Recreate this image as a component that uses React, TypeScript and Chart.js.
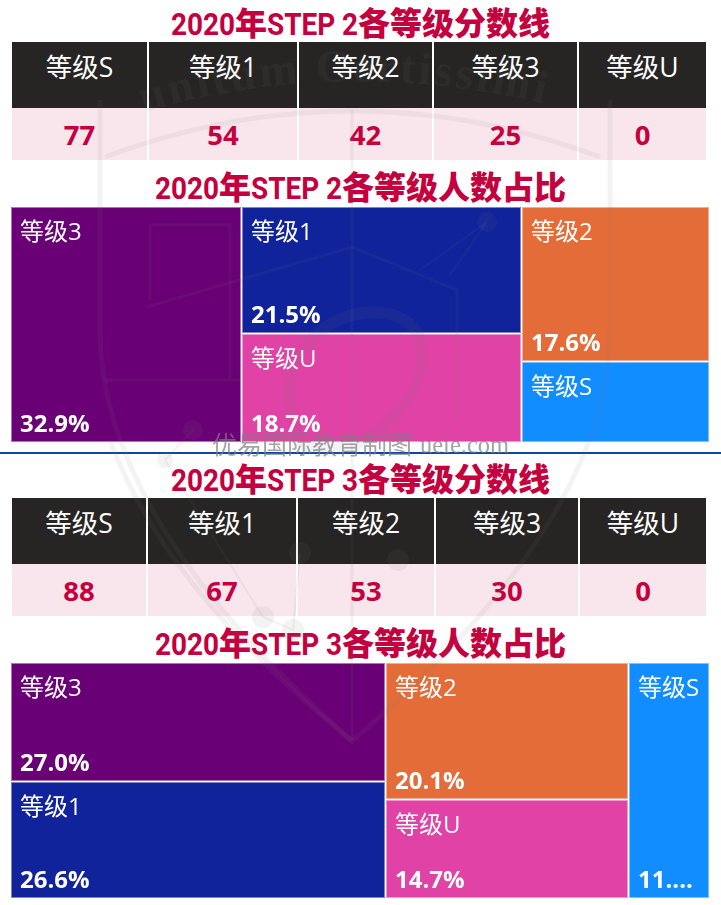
import React, { useEffect, useRef } from 'react';
import { Chart, registerables } from 'chart.js';

Chart.register(...registerables);

// grades, in table order
const grades = ['等级S', '等级1', '等级2', '等级3', '等级U'];
const gradeColors = ['#128dff', '#10239a', '#e46c38', '#6a0075', '#e043a5'];

const step2Scores = [77, 54, 42, 25, 0];
const step3Scores = [88, 67, 53, 30, 0];

const step2Shares = [9.3, 21.5, 17.6, 32.9, 18.7];
const step3Shares = [11.6, 26.6, 20.1, 27.0, 14.7];

// which grades sit together in each treemap column
const step2Columns = [[3], [1, 4], [2, 0]];
const step3Columns = [[3, 1], [2, 4], [0]];

// table column edges in px
const step2TableEdges = [12, 148, 298, 433, 578, 706];
const step3TableEdges = [12, 147, 297, 435, 579, 706];

const FONT = "'Open Sans', 'Noto Sans CJK SC', sans-serif";
const TITLE_RED = '#c5003e';
const LATIN_SQUEEZE = 0.9;

interface Cell {
  x: number;
  y: number;
  x0: number;
  x1: number;
  y0: number;
  y1: number;
  grade: number;
}

const layoutCells = (shares: number[], columns: number[][]): Cell[] => {
  const cells: Cell[] = [];
  let left = 0;
  columns.forEach(col => {
    const colTotal = col.reduce((s, g) => s + shares[g], 0);
    let top = 0;
    col.forEach(g => {
      const h = (shares[g] / colTotal) * 100;
      cells.push({
        x: left + colTotal / 2,
        y: top + h / 2,
        x0: left,
        x1: left + colTotal,
        y0: top,
        y1: top + h,
        grade: g
      });
      top += h;
    });
    left += colTotal;
  });
  return cells;
};

// 11.6% does not fit the narrow column, so it gets cut like the original
const fitText = (ctx: CanvasRenderingContext2D, text: string, maxWidth: number) => {
  if (ctx.measureText(text).width <= maxWidth) return text;
  let cut = text;
  while (cut.length > 0 && ctx.measureText(cut + '...').width > maxWidth) {
    cut = cut.slice(0, -1);
  }
  return cut + '...';
};

const treemapPlugin = (shares: number[]) => ({
  id: 'treemapCells',
  afterDatasetsDraw(chart: any) {
    const { ctx, scales } = chart;
    const cells: Cell[] = chart.data.datasets[0].data;
    cells.forEach(c => {
      const l = Math.round(scales.x.getPixelForValue(c.x0));
      const r = Math.round(scales.x.getPixelForValue(c.x1));
      const t = Math.round(scales.y.getPixelForValue(c.y0));
      const b = Math.round(scales.y.getPixelForValue(c.y1));
      // inner sides leave a wider white gap than the outer ones
      const fl = c.x0 === 0 ? l + 1 : l + 2;
      const ft = c.y0 === 0 ? t + 1 : t + 2;
      const fw = r - 1 - fl;
      const fh = b - 1 - ft;
      ctx.save();
      ctx.fillStyle = gradeColors[c.grade];
      ctx.globalAlpha = 0.55;
      ctx.fillRect(fl - 1, ft - 1, fw + 2, fh + 2);
      ctx.globalAlpha = 1;
      ctx.fillRect(fl, ft, fw, fh);
      ctx.fillStyle = '#fff';
      ctx.textBaseline = 'middle';
      ctx.textAlign = 'left';
      ctx.font = `24px ${FONT}`;
      ctx.fillText(grades[c.grade], fl + 8, ft + 25);
      // very short cells only carry the grade name
      if (b - t > 90) {
        ctx.font = `bold 24px ${FONT}`;
        const pct = shares[c.grade].toFixed(1) + '%';
        ctx.fillText(fitText(ctx, pct, r - l - 18), fl + 8, b - 17);
      }
      ctx.restore();
    });
  }
});

const Treemap: React.FC<{ shares: number[]; columns: number[][]; top: number }> = ({ shares, columns, top }) => {
  const canvasRef = useRef<HTMLCanvasElement>(null);

  useEffect(() => {
    if (!canvasRef.current) return;
    const chart = new Chart(canvasRef.current, {
      type: 'scatter',
      data: {
        datasets: [{ data: layoutCells(shares, columns) as any, pointRadius: 0 }]
      },
      options: {
        animation: false,
        responsive: false,
        maintainAspectRatio: false,
        layout: { padding: 0 },
        scales: {
          x: { display: false, min: 0, max: 100 },
          y: { display: false, min: 0, max: 100, reverse: true }
        },
        plugins: { legend: { display: false }, tooltip: { enabled: false } }
      },
      plugins: [treemapPlugin(shares)]
    });
    return () => chart.destroy();
  }, [shares, columns]);

  return (
    <canvas
      ref={canvasRef}
      width={698}
      height={235}
      style={{ position: 'absolute', left: 11, top, width: 698, height: 235 }}
    />
  );
};

const measureCtx = document.createElement('canvas').getContext('2d');

// no condensed latin font is installed, so squeeze the latin runs by hand
const LatinRun: React.FC<{ text: string }> = ({ text }) => {
  measureCtx.font = 'bold 31px Roboto';
  const width = measureCtx.measureText(text).width;
  return (
    <span style={{ display: 'inline-block', width: width * LATIN_SQUEEZE, textAlign: 'left', fontFamily: 'Roboto', fontSize: 31 }}>
      <span style={{ display: 'inline-block', transform: `scaleX(${LATIN_SQUEEZE})`, transformOrigin: 'left center' }}>{text}</span>
    </span>
  );
};

const Title: React.FC<{ text: string; center: number }> = ({ text, center }) => (
  <div
    style={{
      position: 'absolute',
      left: 0,
      width: 721,
      top: center - 27,
      height: 50,
      lineHeight: '50px',
      textAlign: 'center',
      fontWeight: 700,
      color: TITLE_RED,
      whiteSpace: 'pre'
    }}
  >
    {text.split(/([\u4e00-\u9fff]+)/).map((part, i) =>
      /[\u4e00-\u9fff]/.test(part) ? (
        <span key={i} style={{ fontFamily: "'Noto Sans CJK SC'", fontSize: 32, fontWeight: 900 }}>{part}</span>
      ) : (
        <LatinRun key={i} text={part} />
      )
    )}
  </div>
);

const ScoreTable: React.FC<{ scores: number[]; edges: number[]; top: number }> = ({ scores, edges, top }) => (
  <>
    {grades.map((g, i) => {
      const left = edges[i] + (i > 0 ? 1 : 0);
      const width = edges[i + 1] - left - (i < grades.length - 1 ? 1 : 0);
      return (
        <div key={g} style={{ position: 'absolute', left, width, top, height: 118, fontFamily: FONT, textAlign: 'center' }}>
          <div style={{ height: 66, background: '#262524', color: '#fff', fontSize: 26.5, lineHeight: '50px' }}>{g}</div>
          <div style={{ height: 52, background: '#f9e6ec', color: TITLE_RED, fontSize: 27.5, fontWeight: 700, lineHeight: '54px' }}>
            {scores[i]}
          </div>
        </div>
      );
    })}
  </>
);

// faint seal that lies over the whole picture
const Watermark: React.FC = () => {
  const line = 'rgba(120,120,120,0.09)';
  return (
    <svg
      width={721}
      height={905}
      style={{ position: 'absolute', left: 0, top: 0, pointerEvents: 'none' }}
    >
      <g fill="none" stroke={line} strokeWidth={5}>
        <path d="M105 157 Q352 65 600 157" />
        <path d="M100 100 L100 330 Q100 520 352 741 Q610 520 610 330 L610 100" />
        <path d="M110 440 Q165 590 352 741" />
        <path d="M352 110 L352 740" strokeWidth={3} />
        <path d="M147 307 L352 247 L457 290 L457 420" strokeWidth={3} />
        <path d="M150 300 L150 225 L230 225 L230 380 M105 380 L240 380" strokeWidth={3} />
        <path d="M300 440 C250 320 400 280 420 340 C440 400 340 480 300 440" strokeWidth={12} />
        <path d="M165 460 L263 617 L293 630 L300 553 M487 222 L420 270 M487 222 L450 275 M193 430 L165 460" strokeWidth={2} />
      </g>
      <g fill={line}>
        <circle cx={487} cy={222} r={10} />
        <circle cx={193} cy={430} r={10} />
        <circle cx={165} cy={460} r={8} />
        <circle cx={263} cy={617} r={11} />
        <circle cx={293} cy={630} r={11} />
        <circle cx={300} cy={553} r={11} />
        <circle cx={398} cy={560} r={11} />
      </g>
      <defs>
        <path id="sealArc" d="M125 118 Q352 45 600 118" />
      </defs>
      <text fontFamily="'Liberation Serif'" fontSize={46} fontWeight={700} fill={line} letterSpacing={3}>
        <textPath href="#sealArc" startOffset="4%">unitum Certissimi</textPath>
      </text>
      <text x={212} y={454} fontFamily="'Noto Sans CJK SC'" fontSize={25} fill="rgba(125,125,125,0.7)">优易国际教育制图</text>
      <text x={420} y={453} fontFamily="'Liberation Serif'" fontSize={24.5} fill="rgba(125,125,125,0.7)">ueie.com</text>
    </svg>
  );
};

export default function App() {
  return (
    <div style={{ position: 'relative', width: 721, height: 905, background: '#fff', overflow: 'hidden' }}>
      <style>{'body{margin:0}'}</style>
      <Title text="2020年STEP 2各等级分数线" center={23} />
      <ScoreTable scores={step2Scores} edges={step2TableEdges} top={42} />
      <Title text="2020年STEP 2各等级人数占比" center={187} />
      <Treemap shares={step2Shares} columns={step2Columns} top={207} />
      <div style={{ position: 'absolute', left: 0, top: 452, width: 721, height: 2, background: '#0a47a9' }} />
      <Title text="2020年STEP 3各等级分数线" center={479} />
      <ScoreTable scores={step3Scores} edges={step3TableEdges} top={498} />
      <Title text="2020年STEP 3各等级人数占比" center={643} />
      <Treemap shares={step3Shares} columns={step3Columns} top={663} />
      <Watermark />
    </div>
  );
}
